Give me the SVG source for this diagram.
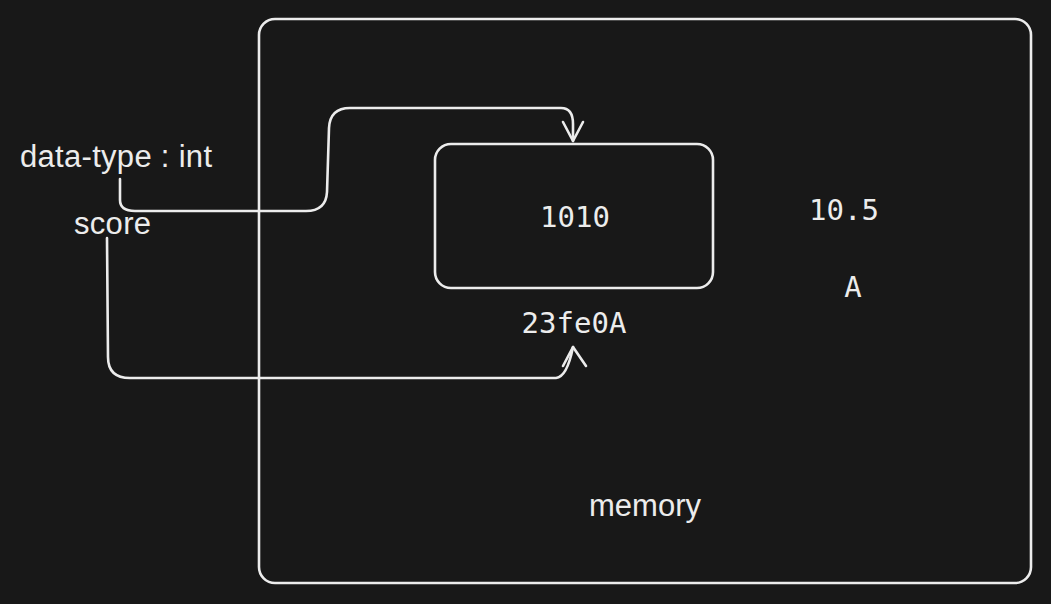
<svg xmlns="http://www.w3.org/2000/svg" width="1051" height="604" viewBox="0 0 1051 604">
<style>
.ln{fill:none;stroke:#ececec;stroke-width:2.6;stroke-linecap:round;stroke-linejoin:round}
.sans{font-family:"Liberation Sans",Arial,sans-serif;font-size:31px;fill:#ececec}
.mono{font-family:"DejaVu Sans Mono","Liberation Mono",monospace;font-size:29px;fill:#ececec;text-anchor:middle}
</style>
<rect width="1051" height="604" fill="#181818"/>
<g id="memory">
<rect class="ln" x="259" y="19" width="772" height="564" rx="16"/>
<text class="sans" x="645" y="516" text-anchor="middle">memory</text>
</g>
<g id="value-box">
<rect class="ln" x="435" y="144" width="278" height="144" rx="16"/>
<text class="mono" x="575" y="227">1010</text>
</g>
<g id="address"><text class="mono" x="574" y="333">23fe0A</text></g>
<g id="float-val"><text class="mono" x="844" y="220">10.5</text></g>
<g id="char-val"><text class="mono" x="853" y="297">A</text></g>
<g id="datatype"><text class="sans" x="20" y="167" textLength="192">data-type : int</text></g>
<g id="score"><text class="sans" x="74" y="234" textLength="77">score</text></g>
<g id="connectors">
<path class="ln" d="M120 179 L120 200 Q120 211 135 211 L306 211 Q326 211 327 192 L329 128 Q330 108 350 108 L561 108 Q573 108 573 124 L573 141"/>
<path class="ln" d="M563 122 L573 141 L583 122"/>
<path class="ln" d="M107 238 L108 357 Q108 378 130 378 L556 378 Q567 377 573 347"/>
<path class="ln" d="M563 366 L573 347 L586 366"/>
</g>
</svg>
